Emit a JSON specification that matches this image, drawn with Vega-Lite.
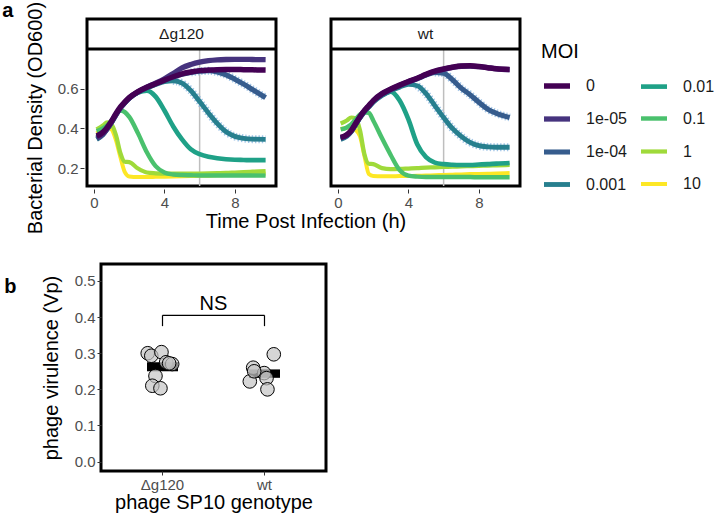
{
"$schema": "https://vega.github.io/schema/vega-lite/v6.json",
"padding": {"left": 2, "top": 1, "right": 0, "bottom": 0},
"background": "white",
"config": {
  "font": "Liberation Sans",
  "view": {"stroke": "black", "strokeWidth": 3},
  "axis": {"domain": false, "grid": false, "labelColor": "#4d4d4d", "labelFontSize": 15, "labelOverlap": false, "tickColor": "#333333", "tickSize": 4, "titleFontSize": 20, "titleFontWeight": "normal", "titleColor": "black", "labelPadding": 2},
  "title": {"fontSize": 20, "fontWeight": "bold", "anchor": "start", "frame": "bounds", "baseline": "alphabetic", "offset": 0}
},
"datasets": {
"curves": [
{"g":"Δg120","m":"10","t":0.15,"v":0.375},{"g":"Δg120","m":"10","t":0.5,"v":0.395},{"g":"Δg120","m":"10","t":0.75,"v":0.405},{"g":"Δg120","m":"10","t":1,"v":0.395},{"g":"Δg120","m":"10","t":1.25,"v":0.34},{"g":"Δg120","m":"10","t":1.5,"v":0.255},{"g":"Δg120","m":"10","t":1.75,"v":0.18},{"g":"Δg120","m":"10","t":2,"v":0.158},{"g":"Δg120","m":"10","t":2.5,"v":0.155},{"g":"Δg120","m":"10","t":3,"v":0.155},{"g":"Δg120","m":"10","t":3.5,"v":0.156},{"g":"Δg120","m":"10","t":4,"v":0.157},{"g":"Δg120","m":"10","t":4.5,"v":0.158},{"g":"Δg120","m":"10","t":5,"v":0.159},{"g":"Δg120","m":"10","t":5.5,"v":0.16},{"g":"Δg120","m":"10","t":6,"v":0.161},{"g":"Δg120","m":"10","t":6.5,"v":0.162},{"g":"Δg120","m":"10","t":7,"v":0.164},{"g":"Δg120","m":"10","t":7.5,"v":0.165},{"g":"Δg120","m":"10","t":8,"v":0.167},{"g":"Δg120","m":"10","t":8.5,"v":0.168},{"g":"Δg120","m":"10","t":9,"v":0.17},{"g":"Δg120","m":"10","t":9.75,"v":0.172},
{"g":"Δg120","m":"1","t":0.15,"v":0.395},{"g":"Δg120","m":"1","t":0.5,"v":0.415},{"g":"Δg120","m":"1","t":0.75,"v":0.43},{"g":"Δg120","m":"1","t":1,"v":0.42},{"g":"Δg120","m":"1","t":1.25,"v":0.365},{"g":"Δg120","m":"1","t":1.5,"v":0.275},{"g":"Δg120","m":"1","t":1.75,"v":0.232},{"g":"Δg120","m":"1","t":2,"v":0.23},{"g":"Δg120","m":"1","t":2.5,"v":0.198},{"g":"Δg120","m":"1","t":3,"v":0.178},{"g":"Δg120","m":"1","t":3.5,"v":0.174},{"g":"Δg120","m":"1","t":4,"v":0.172},{"g":"Δg120","m":"1","t":4.5,"v":0.172},{"g":"Δg120","m":"1","t":5,"v":0.172},{"g":"Δg120","m":"1","t":5.5,"v":0.172},{"g":"Δg120","m":"1","t":6,"v":0.173},{"g":"Δg120","m":"1","t":6.5,"v":0.174},{"g":"Δg120","m":"1","t":7,"v":0.175},{"g":"Δg120","m":"1","t":7.5,"v":0.176},{"g":"Δg120","m":"1","t":8,"v":0.178},{"g":"Δg120","m":"1","t":8.5,"v":0.18},{"g":"Δg120","m":"1","t":9,"v":0.182},{"g":"Δg120","m":"1","t":9.75,"v":0.185},
{"g":"Δg120","m":"0.1","t":0.15,"v":0.385},{"g":"Δg120","m":"0.1","t":0.5,"v":0.4},{"g":"Δg120","m":"0.1","t":0.75,"v":0.415},{"g":"Δg120","m":"0.1","t":1,"v":0.44},{"g":"Δg120","m":"0.1","t":1.25,"v":0.47},{"g":"Δg120","m":"0.1","t":1.5,"v":0.49},{"g":"Δg120","m":"0.1","t":1.75,"v":0.482},{"g":"Δg120","m":"0.1","t":2,"v":0.458},{"g":"Δg120","m":"0.1","t":2.5,"v":0.375},{"g":"Δg120","m":"0.1","t":3,"v":0.28},{"g":"Δg120","m":"0.1","t":3.5,"v":0.21},{"g":"Δg120","m":"0.1","t":4,"v":0.178},{"g":"Δg120","m":"0.1","t":4.5,"v":0.168},{"g":"Δg120","m":"0.1","t":5,"v":0.165},{"g":"Δg120","m":"0.1","t":5.5,"v":0.164},{"g":"Δg120","m":"0.1","t":6,"v":0.163},{"g":"Δg120","m":"0.1","t":6.5,"v":0.163},{"g":"Δg120","m":"0.1","t":7,"v":0.163},{"g":"Δg120","m":"0.1","t":7.5,"v":0.163},{"g":"Δg120","m":"0.1","t":8,"v":0.163},{"g":"Δg120","m":"0.1","t":8.5,"v":0.163},{"g":"Δg120","m":"0.1","t":9,"v":0.163},{"g":"Δg120","m":"0.1","t":9.75,"v":0.163},
{"g":"Δg120","m":"0.01","t":0.15,"v":0.36},{"g":"Δg120","m":"0.01","t":0.5,"v":0.378},{"g":"Δg120","m":"0.01","t":0.75,"v":0.403},{"g":"Δg120","m":"0.01","t":1,"v":0.435},{"g":"Δg120","m":"0.01","t":1.25,"v":0.472},{"g":"Δg120","m":"0.01","t":1.5,"v":0.505},{"g":"Δg120","m":"0.01","t":1.75,"v":0.53},{"g":"Δg120","m":"0.01","t":2,"v":0.552},{"g":"Δg120","m":"0.01","t":2.5,"v":0.58},{"g":"Δg120","m":"0.01","t":3,"v":0.59},{"g":"Δg120","m":"0.01","t":3.5,"v":0.56},{"g":"Δg120","m":"0.01","t":4,"v":0.49},{"g":"Δg120","m":"0.01","t":4.5,"v":0.41},{"g":"Δg120","m":"0.01","t":5,"v":0.345},{"g":"Δg120","m":"0.01","t":5.5,"v":0.295},{"g":"Δg120","m":"0.01","t":6,"v":0.27},{"g":"Δg120","m":"0.01","t":6.5,"v":0.257},{"g":"Δg120","m":"0.01","t":7,"v":0.25},{"g":"Δg120","m":"0.01","t":7.5,"v":0.245},{"g":"Δg120","m":"0.01","t":8,"v":0.242},{"g":"Δg120","m":"0.01","t":8.5,"v":0.241},{"g":"Δg120","m":"0.01","t":9,"v":0.24},{"g":"Δg120","m":"0.01","t":9.75,"v":0.24},
{"g":"Δg120","m":"0.001","t":0.15,"v":0.345},{"g":"Δg120","m":"0.001","t":0.5,"v":0.368},{"g":"Δg120","m":"0.001","t":0.75,"v":0.396},{"g":"Δg120","m":"0.001","t":1,"v":0.43},{"g":"Δg120","m":"0.001","t":1.25,"v":0.468},{"g":"Δg120","m":"0.001","t":1.5,"v":0.502},{"g":"Δg120","m":"0.001","t":1.75,"v":0.528},{"g":"Δg120","m":"0.001","t":2,"v":0.551},{"g":"Δg120","m":"0.001","t":2.5,"v":0.582},{"g":"Δg120","m":"0.001","t":3,"v":0.603},{"g":"Δg120","m":"0.001","t":3.5,"v":0.621},{"g":"Δg120","m":"0.001","t":4,"v":0.636},{"g":"Δg120","m":"0.001","t":4.5,"v":0.64},{"g":"Δg120","m":"0.001","t":5,"v":0.628},{"g":"Δg120","m":"0.001","t":5.5,"v":0.59},{"g":"Δg120","m":"0.001","t":6,"v":0.535},{"g":"Δg120","m":"0.001","t":6.5,"v":0.478},{"g":"Δg120","m":"0.001","t":7,"v":0.425},{"g":"Δg120","m":"0.001","t":7.5,"v":0.383},{"g":"Δg120","m":"0.001","t":8,"v":0.36},{"g":"Δg120","m":"0.001","t":8.5,"v":0.35},{"g":"Δg120","m":"0.001","t":9,"v":0.346},{"g":"Δg120","m":"0.001","t":9.75,"v":0.345},
{"g":"Δg120","m":"1e-04","t":0.15,"v":0.348},{"g":"Δg120","m":"1e-04","t":0.5,"v":0.37},{"g":"Δg120","m":"1e-04","t":0.75,"v":0.398},{"g":"Δg120","m":"1e-04","t":1,"v":0.432},{"g":"Δg120","m":"1e-04","t":1.25,"v":0.47},{"g":"Δg120","m":"1e-04","t":1.5,"v":0.503},{"g":"Δg120","m":"1e-04","t":1.75,"v":0.529},{"g":"Δg120","m":"1e-04","t":2,"v":0.552},{"g":"Δg120","m":"1e-04","t":2.5,"v":0.583},{"g":"Δg120","m":"1e-04","t":3,"v":0.605},{"g":"Δg120","m":"1e-04","t":3.5,"v":0.624},{"g":"Δg120","m":"1e-04","t":4,"v":0.642},{"g":"Δg120","m":"1e-04","t":4.5,"v":0.659},{"g":"Δg120","m":"1e-04","t":5,"v":0.673},{"g":"Δg120","m":"1e-04","t":5.5,"v":0.682},{"g":"Δg120","m":"1e-04","t":6,"v":0.688},{"g":"Δg120","m":"1e-04","t":6.5,"v":0.69},{"g":"Δg120","m":"1e-04","t":7,"v":0.684},{"g":"Δg120","m":"1e-04","t":7.5,"v":0.67},{"g":"Δg120","m":"1e-04","t":8,"v":0.648},{"g":"Δg120","m":"1e-04","t":8.5,"v":0.623},{"g":"Δg120","m":"1e-04","t":9,"v":0.596},{"g":"Δg120","m":"1e-04","t":9.75,"v":0.555},
{"g":"Δg120","m":"1e-05","t":0.15,"v":0.352},{"g":"Δg120","m":"1e-05","t":0.5,"v":0.372},{"g":"Δg120","m":"1e-05","t":0.75,"v":0.4},{"g":"Δg120","m":"1e-05","t":1,"v":0.433},{"g":"Δg120","m":"1e-05","t":1.25,"v":0.47},{"g":"Δg120","m":"1e-05","t":1.5,"v":0.504},{"g":"Δg120","m":"1e-05","t":1.75,"v":0.53},{"g":"Δg120","m":"1e-05","t":2,"v":0.553},{"g":"Δg120","m":"1e-05","t":2.5,"v":0.585},{"g":"Δg120","m":"1e-05","t":3,"v":0.608},{"g":"Δg120","m":"1e-05","t":3.5,"v":0.628},{"g":"Δg120","m":"1e-05","t":4,"v":0.65},{"g":"Δg120","m":"1e-05","t":4.5,"v":0.677},{"g":"Δg120","m":"1e-05","t":5,"v":0.705},{"g":"Δg120","m":"1e-05","t":5.5,"v":0.722},{"g":"Δg120","m":"1e-05","t":6,"v":0.734},{"g":"Δg120","m":"1e-05","t":6.5,"v":0.741},{"g":"Δg120","m":"1e-05","t":7,"v":0.745},{"g":"Δg120","m":"1e-05","t":7.5,"v":0.747},{"g":"Δg120","m":"1e-05","t":8,"v":0.748},{"g":"Δg120","m":"1e-05","t":8.5,"v":0.748},{"g":"Δg120","m":"1e-05","t":9,"v":0.747},{"g":"Δg120","m":"1e-05","t":9.75,"v":0.746},
{"g":"Δg120","m":"0","t":0.15,"v":0.362},{"g":"Δg120","m":"0","t":0.5,"v":0.38},{"g":"Δg120","m":"0","t":0.75,"v":0.405},{"g":"Δg120","m":"0","t":1,"v":0.437},{"g":"Δg120","m":"0","t":1.25,"v":0.475},{"g":"Δg120","m":"0","t":1.5,"v":0.508},{"g":"Δg120","m":"0","t":1.75,"v":0.533},{"g":"Δg120","m":"0","t":2,"v":0.555},{"g":"Δg120","m":"0","t":2.5,"v":0.585},{"g":"Δg120","m":"0","t":3,"v":0.607},{"g":"Δg120","m":"0","t":3.5,"v":0.625},{"g":"Δg120","m":"0","t":4,"v":0.643},{"g":"Δg120","m":"0","t":4.5,"v":0.66},{"g":"Δg120","m":"0","t":5,"v":0.675},{"g":"Δg120","m":"0","t":5.5,"v":0.684},{"g":"Δg120","m":"0","t":6,"v":0.691},{"g":"Δg120","m":"0","t":6.5,"v":0.694},{"g":"Δg120","m":"0","t":7,"v":0.696},{"g":"Δg120","m":"0","t":7.5,"v":0.697},{"g":"Δg120","m":"0","t":8,"v":0.697},{"g":"Δg120","m":"0","t":8.5,"v":0.696},{"g":"Δg120","m":"0","t":9,"v":0.695},{"g":"Δg120","m":"0","t":9.75,"v":0.694},
{"g":"wt","m":"10","t":0.15,"v":0.397},{"g":"wt","m":"10","t":0.5,"v":0.403},{"g":"wt","m":"10","t":0.75,"v":0.405},{"g":"wt","m":"10","t":1,"v":0.392},{"g":"wt","m":"10","t":1.25,"v":0.36},{"g":"wt","m":"10","t":1.5,"v":0.262},{"g":"wt","m":"10","t":1.75,"v":0.17},{"g":"wt","m":"10","t":2,"v":0.16},{"g":"wt","m":"10","t":2.5,"v":0.159},{"g":"wt","m":"10","t":3,"v":0.159},{"g":"wt","m":"10","t":3.5,"v":0.16},{"g":"wt","m":"10","t":4,"v":0.16},{"g":"wt","m":"10","t":4.5,"v":0.161},{"g":"wt","m":"10","t":5,"v":0.163},{"g":"wt","m":"10","t":5.5,"v":0.164},{"g":"wt","m":"10","t":6,"v":0.166},{"g":"wt","m":"10","t":6.5,"v":0.167},{"g":"wt","m":"10","t":7,"v":0.168},{"g":"wt","m":"10","t":7.5,"v":0.17},{"g":"wt","m":"10","t":8,"v":0.171},{"g":"wt","m":"10","t":8.5,"v":0.172},{"g":"wt","m":"10","t":9,"v":0.173},{"g":"wt","m":"10","t":9.75,"v":0.175},
{"g":"wt","m":"1","t":0.15,"v":0.425},{"g":"wt","m":"1","t":0.5,"v":0.44},{"g":"wt","m":"1","t":0.75,"v":0.455},{"g":"wt","m":"1","t":1,"v":0.45},{"g":"wt","m":"1","t":1.25,"v":0.39},{"g":"wt","m":"1","t":1.5,"v":0.27},{"g":"wt","m":"1","t":1.75,"v":0.222},{"g":"wt","m":"1","t":2,"v":0.22},{"g":"wt","m":"1","t":2.5,"v":0.2},{"g":"wt","m":"1","t":3,"v":0.195},{"g":"wt","m":"1","t":3.5,"v":0.196},{"g":"wt","m":"1","t":4,"v":0.198},{"g":"wt","m":"1","t":4.5,"v":0.2},{"g":"wt","m":"1","t":5,"v":0.203},{"g":"wt","m":"1","t":5.5,"v":0.204},{"g":"wt","m":"1","t":6,"v":0.206},{"g":"wt","m":"1","t":6.5,"v":0.207},{"g":"wt","m":"1","t":7,"v":0.209},{"g":"wt","m":"1","t":7.5,"v":0.21},{"g":"wt","m":"1","t":8,"v":0.211},{"g":"wt","m":"1","t":8.5,"v":0.213},{"g":"wt","m":"1","t":9,"v":0.214},{"g":"wt","m":"1","t":9.75,"v":0.216},
{"g":"wt","m":"0.1","t":0.15,"v":0.395},{"g":"wt","m":"0.1","t":0.5,"v":0.405},{"g":"wt","m":"0.1","t":0.75,"v":0.42},{"g":"wt","m":"0.1","t":1,"v":0.445},{"g":"wt","m":"0.1","t":1.25,"v":0.47},{"g":"wt","m":"0.1","t":1.5,"v":0.481},{"g":"wt","m":"0.1","t":1.75,"v":0.478},{"g":"wt","m":"0.1","t":2,"v":0.44},{"g":"wt","m":"0.1","t":2.5,"v":0.35},{"g":"wt","m":"0.1","t":3,"v":0.265},{"g":"wt","m":"0.1","t":3.5,"v":0.19},{"g":"wt","m":"0.1","t":4,"v":0.162},{"g":"wt","m":"0.1","t":4.5,"v":0.157},{"g":"wt","m":"0.1","t":5,"v":0.155},{"g":"wt","m":"0.1","t":5.5,"v":0.155},{"g":"wt","m":"0.1","t":6,"v":0.155},{"g":"wt","m":"0.1","t":6.5,"v":0.155},{"g":"wt","m":"0.1","t":7,"v":0.155},{"g":"wt","m":"0.1","t":7.5,"v":0.155},{"g":"wt","m":"0.1","t":8,"v":0.154},{"g":"wt","m":"0.1","t":8.5,"v":0.154},{"g":"wt","m":"0.1","t":9,"v":0.154},{"g":"wt","m":"0.1","t":9.75,"v":0.154},
{"g":"wt","m":"0.01","t":0.15,"v":0.35},{"g":"wt","m":"0.01","t":0.5,"v":0.363},{"g":"wt","m":"0.01","t":0.75,"v":0.385},{"g":"wt","m":"0.01","t":1,"v":0.42},{"g":"wt","m":"0.01","t":1.25,"v":0.455},{"g":"wt","m":"0.01","t":1.5,"v":0.485},{"g":"wt","m":"0.01","t":1.75,"v":0.51},{"g":"wt","m":"0.01","t":2,"v":0.535},{"g":"wt","m":"0.01","t":2.5,"v":0.568},{"g":"wt","m":"0.01","t":3,"v":0.585},{"g":"wt","m":"0.01","t":3.5,"v":0.54},{"g":"wt","m":"0.01","t":4,"v":0.445},{"g":"wt","m":"0.01","t":4.5,"v":0.32},{"g":"wt","m":"0.01","t":5,"v":0.255},{"g":"wt","m":"0.01","t":5.5,"v":0.228},{"g":"wt","m":"0.01","t":6,"v":0.22},{"g":"wt","m":"0.01","t":6.5,"v":0.217},{"g":"wt","m":"0.01","t":7,"v":0.216},{"g":"wt","m":"0.01","t":7.5,"v":0.216},{"g":"wt","m":"0.01","t":8,"v":0.218},{"g":"wt","m":"0.01","t":8.5,"v":0.22},{"g":"wt","m":"0.01","t":9,"v":0.223},{"g":"wt","m":"0.01","t":9.75,"v":0.226},
{"g":"wt","m":"0.001","t":0.15,"v":0.345},{"g":"wt","m":"0.001","t":0.5,"v":0.36},{"g":"wt","m":"0.001","t":0.75,"v":0.383},{"g":"wt","m":"0.001","t":1,"v":0.418},{"g":"wt","m":"0.001","t":1.25,"v":0.453},{"g":"wt","m":"0.001","t":1.5,"v":0.483},{"g":"wt","m":"0.001","t":1.75,"v":0.508},{"g":"wt","m":"0.001","t":2,"v":0.532},{"g":"wt","m":"0.001","t":2.5,"v":0.566},{"g":"wt","m":"0.001","t":3,"v":0.59},{"g":"wt","m":"0.001","t":3.5,"v":0.608},{"g":"wt","m":"0.001","t":4,"v":0.622},{"g":"wt","m":"0.001","t":4.5,"v":0.615},{"g":"wt","m":"0.001","t":5,"v":0.575},{"g":"wt","m":"0.001","t":5.5,"v":0.515},{"g":"wt","m":"0.001","t":6,"v":0.455},{"g":"wt","m":"0.001","t":6.5,"v":0.4},{"g":"wt","m":"0.001","t":7,"v":0.36},{"g":"wt","m":"0.001","t":7.5,"v":0.33},{"g":"wt","m":"0.001","t":8,"v":0.313},{"g":"wt","m":"0.001","t":8.5,"v":0.307},{"g":"wt","m":"0.001","t":9,"v":0.305},{"g":"wt","m":"0.001","t":9.75,"v":0.305},
{"g":"wt","m":"1e-04","t":0.15,"v":0.35},{"g":"wt","m":"1e-04","t":0.5,"v":0.364},{"g":"wt","m":"1e-04","t":0.75,"v":0.386},{"g":"wt","m":"1e-04","t":1,"v":0.421},{"g":"wt","m":"1e-04","t":1.25,"v":0.456},{"g":"wt","m":"1e-04","t":1.5,"v":0.486},{"g":"wt","m":"1e-04","t":1.75,"v":0.511},{"g":"wt","m":"1e-04","t":2,"v":0.536},{"g":"wt","m":"1e-04","t":2.5,"v":0.571},{"g":"wt","m":"1e-04","t":3,"v":0.595},{"g":"wt","m":"1e-04","t":3.5,"v":0.615},{"g":"wt","m":"1e-04","t":4,"v":0.633},{"g":"wt","m":"1e-04","t":4.5,"v":0.65},{"g":"wt","m":"1e-04","t":5,"v":0.668},{"g":"wt","m":"1e-04","t":5.5,"v":0.682},{"g":"wt","m":"1e-04","t":6,"v":0.678},{"g":"wt","m":"1e-04","t":6.5,"v":0.645},{"g":"wt","m":"1e-04","t":7,"v":0.603},{"g":"wt","m":"1e-04","t":7.5,"v":0.57},{"g":"wt","m":"1e-04","t":8,"v":0.532},{"g":"wt","m":"1e-04","t":8.5,"v":0.497},{"g":"wt","m":"1e-04","t":9,"v":0.476},{"g":"wt","m":"1e-04","t":9.75,"v":0.455},
{"g":"wt","m":"1e-05","t":0.15,"v":0.352},{"g":"wt","m":"1e-05","t":0.5,"v":0.366},{"g":"wt","m":"1e-05","t":0.75,"v":0.388},{"g":"wt","m":"1e-05","t":1,"v":0.423},{"g":"wt","m":"1e-05","t":1.25,"v":0.458},{"g":"wt","m":"1e-05","t":1.5,"v":0.488},{"g":"wt","m":"1e-05","t":1.75,"v":0.513},{"g":"wt","m":"1e-05","t":2,"v":0.538},{"g":"wt","m":"1e-05","t":2.5,"v":0.573},{"g":"wt","m":"1e-05","t":3,"v":0.597},{"g":"wt","m":"1e-05","t":3.5,"v":0.617},{"g":"wt","m":"1e-05","t":4,"v":0.635},{"g":"wt","m":"1e-05","t":4.5,"v":0.652},{"g":"wt","m":"1e-05","t":5,"v":0.671},{"g":"wt","m":"1e-05","t":5.5,"v":0.687},{"g":"wt","m":"1e-05","t":6,"v":0.698},{"g":"wt","m":"1e-05","t":6.5,"v":0.707},{"g":"wt","m":"1e-05","t":7,"v":0.713},{"g":"wt","m":"1e-05","t":7.5,"v":0.714},{"g":"wt","m":"1e-05","t":8,"v":0.711},{"g":"wt","m":"1e-05","t":8.5,"v":0.706},{"g":"wt","m":"1e-05","t":9,"v":0.7},{"g":"wt","m":"1e-05","t":9.75,"v":0.696},
{"g":"wt","m":"0","t":0.15,"v":0.355},{"g":"wt","m":"0","t":0.5,"v":0.368},{"g":"wt","m":"0","t":0.75,"v":0.39},{"g":"wt","m":"0","t":1,"v":0.425},{"g":"wt","m":"0","t":1.25,"v":0.46},{"g":"wt","m":"0","t":1.5,"v":0.49},{"g":"wt","m":"0","t":1.75,"v":0.515},{"g":"wt","m":"0","t":2,"v":0.54},{"g":"wt","m":"0","t":2.5,"v":0.575},{"g":"wt","m":"0","t":3,"v":0.598},{"g":"wt","m":"0","t":3.5,"v":0.618},{"g":"wt","m":"0","t":4,"v":0.636},{"g":"wt","m":"0","t":4.5,"v":0.653},{"g":"wt","m":"0","t":5,"v":0.672},{"g":"wt","m":"0","t":5.5,"v":0.688},{"g":"wt","m":"0","t":6,"v":0.699},{"g":"wt","m":"0","t":6.5,"v":0.708},{"g":"wt","m":"0","t":7,"v":0.714},{"g":"wt","m":"0","t":7.5,"v":0.715},{"g":"wt","m":"0","t":8,"v":0.712},{"g":"wt","m":"0","t":8.5,"v":0.706},{"g":"wt","m":"0","t":9,"v":0.7},{"g":"wt","m":"0","t":9.75,"v":0.697}
],
"vp": [
{"geno":"Δg120","j":-0.145,"vp":0.300},{"geno":"Δg120","j":-0.11,"vp":0.293},{"geno":"Δg120","j":-0.01,"vp":0.303},{"geno":"Δg120","j":0.036,"vp":0.275},{"geno":"Δg120","j":0.095,"vp":0.270},{"geno":"Δg120","j":0.065,"vp":0.272},{"geno":"Δg120","j":-0.069,"vp":0.237},{"geno":"Δg120","j":-0.10,"vp":0.210},{"geno":"Δg120","j":-0.02,"vp":0.203},
{"geno":"wt","j":0.091,"vp":0.297},{"geno":"wt","j":-0.111,"vp":0.260},{"geno":"wt","j":-0.144,"vp":0.222},{"geno":"wt","j":-0.003,"vp":0.245},{"geno":"wt","j":0.02,"vp":0.231},{"geno":"wt","j":0.029,"vp":0.200},{"geno":"wt","j":-0.101,"vp":0.250}
],
"br": [
{"a":"Δg120","b":"wt","y1":0.405,"y2":0.405},{"a":"Δg120","b":"Δg120","y1":0.375,"y2":0.405},{"a":"wt","b":"wt","y1":0.375,"y2":0.405}
],
"ns": [{"geno":"Δg120","label":"NS","y":0.437}]
},
"vconcat": [
{
  "title": {"text": "a", "dx": -23, "dy": 24},
  "data": {"name": "curves"},
  "facet": {"column": {"field": "g", "type": "nominal", "sort": ["Δg120", "wt"], "title": "Time Post Infection (h)",
    "header": {"labels": false, "titleOrient": "bottom", "titleFontSize": 20, "titleFontWeight": "normal", "titleColor": "black", "titlePadding": -8, "titleFont": "Liberation Sans"}}},
  "spacing": {"column": 44},
  "spec": {
    "width": 189, "height": 167,
    "layer": [
      {"transform": [{"filter": "datum.m === '0' && datum.t < 0.2"}],
       "mark": {"type": "rule", "color": "#BEBEBE", "strokeWidth": 1.5},
       "encoding": {
         "x": {"datum": 6, "type": "quantitative", "title": null, "scale": {"domain": [-0.4, 10.34], "nice": false, "zero": false}, "axis": {"values": [0, 2, 4, 6, 8, 10], "labelFontSize": 15, "labelOverlap": false}},
         "y": {"datum": 0.11, "type": "quantitative", "title": "Bacterial Density (OD600)", "scale": {"domain": [0.11, 0.951], "nice": false, "zero": false}, "axis": {"values": [0.2, 0.4, 0.6], "format": ".1f", "labelFontSize": 15, "titleY": 98.5, "titlePadding": 12}},
         "y2": {"datum": 0.8}}},
      {"transform": [{"filter": "(datum.m === '1e-04' && datum.t >= 5.5) || (datum.m === '0.001' && datum.t >= 4.5)"}],
       "mark": {"type": "line", "interpolate": "monotone", "color": "#86b4e0", "strokeWidth": 8, "strokeDash": [1.4, 2], "opacity": 0.75},
       "encoding": {
         "x": {"field": "t", "type": "quantitative", "title": null},
         "y": {"field": "v", "type": "quantitative", "title": "Bacterial Density (OD600)"},
         "detail": {"field": "m", "type": "nominal"}
       }},
      {"mark": {"type": "line", "interpolate": "monotone"},
       "encoding": {
         "x": {"field": "t", "type": "quantitative", "title": null, "scale": {"domain": [-0.4, 10.34], "nice": false, "zero": false}, "axis": {"values": [0, 2, 4, 6, 8, 10], "labelFontSize": 15, "labelOverlap": false}},
         "y": {"field": "v", "type": "quantitative", "title": "Bacterial Density (OD600)", "scale": {"domain": [0.11, 0.951], "nice": false, "zero": false}, "axis": {"values": [0.2, 0.4, 0.6], "format": ".1f", "labelFontSize": 15, "titleY": 98.5, "titlePadding": 12}},
         "color": {"field": "m", "type": "nominal",
           "scale": {"domain": ["0", "1e-05", "1e-04", "0.001", "0.01", "0.1", "1", "10"], "range": ["#440154", "#46337E", "#365C8D", "#277F8E", "#1FA187", "#4AC16D", "#9FDA3A", "#FDE725"]},
           "legend": {"title": "MOI", "orient": "none", "legendX": 454, "legendY": 23, "columns": 2, "symbolType": "stroke", "symbolSize": 676, "symbolStrokeWidth": 5, "labelFontSize": 16, "titleFontSize": 20, "titleFontWeight": "normal", "rowPadding": 6, "columnPadding": 4, "labelOffset": 13, "titlePadding": 8, "labelColor": "#1a1a1a", "padding": 0}},
         "strokeWidth": {"field": "m", "type": "nominal", "scale": {"domain": ["0", "1e-05", "1e-04", "0.001", "0.01", "0.1", "1", "10"], "range": [5.5, 4, 3.5, 3.5, 3, 3, 3, 3]}, "legend": null}
       }},
      {"transform": [{"filter": "datum.m === '0' && datum.t < 0.2"}],
       "mark": {"type": "rule", "color": "black", "strokeWidth": 3},
       "encoding": {"y": {"datum": 0.8, "type": "quantitative"}}},
      {"transform": [{"filter": "datum.m === '0' && datum.t < 0.2"}],
       "mark": {"type": "text", "fontSize": 15.5, "color": "#1a1a1a"},
       "encoding": {"x": {"datum": 4.97, "type": "quantitative"}, "y": {"datum": 0.876, "type": "quantitative"}, "text": {"field": "g"}}}
    ]
  }
},
{
  "hconcat": [
    {"width": 1, "height": 1, "view": {"stroke": null}, "data": {"values": []}, "mark": "point"},
    {
      "title": {"text": "b", "dx": -37, "dy": 37},
      "width": 225, "height": 207,
      "layer": [
        {"data": {"name": "vp"},
         "mark": {"type": "errorbar", "extent": "stderr", "ticks": false, "thickness": 31, "color": "black"},
         "encoding": {
           "x": {"field": "geno", "type": "nominal", "title": "phage SP10 genotype", "scale": {"type": "band", "domain": ["Δg120", "wt"], "paddingInner": 0, "paddingOuter": 0.103}, "axis": {"labelAngle": 0, "labelFontSize": 15, "titlePadding": 0}},
           "y": {"field": "vp", "type": "quantitative", "title": "phage virulence (Vp)", "scale": {"domain": [-0.026, 0.547], "nice": false, "zero": false}, "axis": {"values": [0, 0.1, 0.2, 0.3, 0.4, 0.5], "format": ".1f", "labelFontSize": 15, "titlePadding": 13}}
         }},
        {"data": {"name": "vp"},
         "mark": {"type": "point", "shape": "circle", "filled": true, "size": 185, "color": "#c4c4c4", "fillOpacity": 0.7, "stroke": "black", "strokeWidth": 1, "strokeOpacity": 1},
         "encoding": {
           "x": {"field": "geno", "type": "nominal", "title": "phage SP10 genotype", "scale": {"type": "band"}},
           "xOffset": {"field": "j", "type": "quantitative", "scale": {"domain": [-0.5, 0.5], "nice": false, "zero": false}},
           "y": {"field": "vp", "type": "quantitative", "title": "phage virulence (Vp)"}
         }},
        {"data": {"name": "br"},
         "mark": {"type": "rule", "color": "black", "strokeWidth": 1.2},
         "encoding": {
           "x": {"field": "a", "type": "nominal", "title": "phage SP10 genotype", "scale": {"type": "band"}},
           "x2": {"field": "b"},
           "y": {"field": "y1", "type": "quantitative", "title": "phage virulence (Vp)"},
           "y2": {"field": "y2"}
         }},
        {"data": {"name": "ns"},
         "mark": {"type": "text", "fontSize": 20, "color": "black"},
         "encoding": {
           "x": {"field": "geno", "type": "nominal", "title": "phage SP10 genotype", "scale": {"type": "band"}},
           "xOffset": {"datum": 0.5, "type": "quantitative"},
           "y": {"field": "y", "type": "quantitative", "title": "phage virulence (Vp)"},
           "text": {"field": "label"}
         }}
      ]
    }
  ],
  "spacing": -86
}
],
"spacing": 28
}
